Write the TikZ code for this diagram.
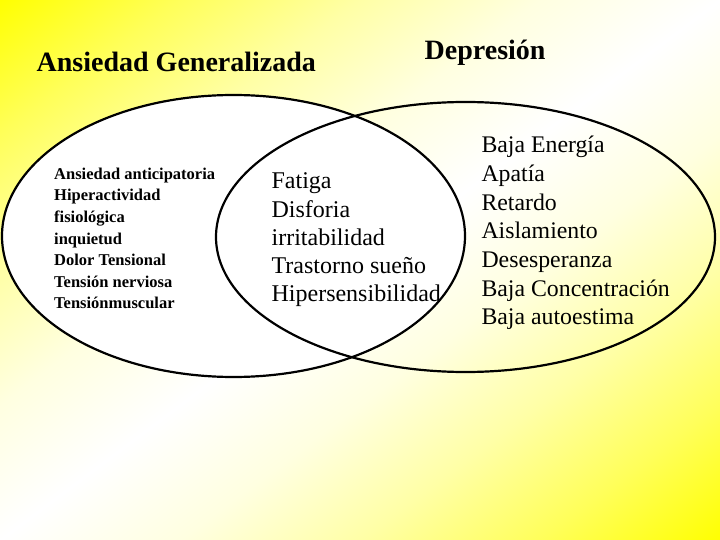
\documentclass[tikz,border=0pt]{standalone}
\usepackage{fontspec}
\setmainfont{Liberation Serif}
\newcommand{\linesbox}[1]{\vtop{#1}}
\pgfdeclarehorizontalshading{bgshade}{100bp}{color(0bp)=(yellow); color(25bp)=(yellow);
  color(31.25bp)=(yellow!65!white); color(37.5bp)=(yellow!35!white); color(43.75bp)=(yellow!12!white);
  color(50bp)=(white);
  color(56.25bp)=(yellow!12!white); color(62.5bp)=(yellow!35!white); color(68.75bp)=(yellow!65!white);
  color(75bp)=(yellow); color(100bp)=(yellow)}
\begin{document}
\begin{tikzpicture}[x=1pt,y=-1pt,
  venn/.style={line width=2.2pt, draw=black},
  titletext/.style={font=\fontsize{28}{32}\selectfont\bfseries, inner sep=0pt, anchor=base west},
  smalllist/.style={font=\fontsize{16.5}{21.6}\selectfont\bfseries, inner sep=0pt, anchor=base west},
  midlist/.style={font=\fontsize{24}{28.2}\selectfont, inner sep=0pt, anchor=base west},
  rightlist/.style={font=\fontsize{23.8}{28.7}\selectfont, inner sep=0pt, anchor=base west}]
\useasboundingbox (0,0) rectangle (720,540);
% background gradient
\begin{scope}
  \clip (0,0) rectangle (720,540);
  \begin{scope}[transform canvas={shift={(360pt,-270pt)}, rotate=-53.13}]
    \shade[shading=bgshade]
      (-433pt,-460pt) rectangle (433pt,460pt);
  \end{scope}
\end{scope}
% ellipses
\path[venn, fill=white] (233.5,236) ellipse [x radius=231.5pt, y radius=141pt];
\path[venn] (465.5,237) ellipse [x radius=249.5pt, y radius=135pt];
% titles
\node[titletext] (tanx) at (36.5,71.7) {Ansiedad Generalizada};
\node[titletext] (tdep) at (424.5,60) {Depresión};
% lists
\node[smalllist] (lanx) at (54,179.3) {\linesbox{\hbox{Ansiedad anticipatoria}\hbox{Hiperactividad}\hbox{fisiológica}\hbox{inquietud}\hbox{Dolor Tensional}\hbox{Tensión nerviosa}\hbox{Tensiónmuscular}}};
\node[midlist] (lmid) at (271.4,189) {\linesbox{\hbox{Fatiga}\hbox{Disforia}\hbox{irritabilidad}\hbox{Trastorno sueño}\hbox{Hipersensibilidad}}};
\node[rightlist] (ldep) at (481.3,152.7) {\linesbox{\hbox{Baja Energía}\hbox{Apatía}\hbox{Retardo}\hbox{Aislamiento}\hbox{Desesperanza}\hbox{Baja Concentración}\hbox{Baja autoestima}}};
\end{tikzpicture}
\end{document}
